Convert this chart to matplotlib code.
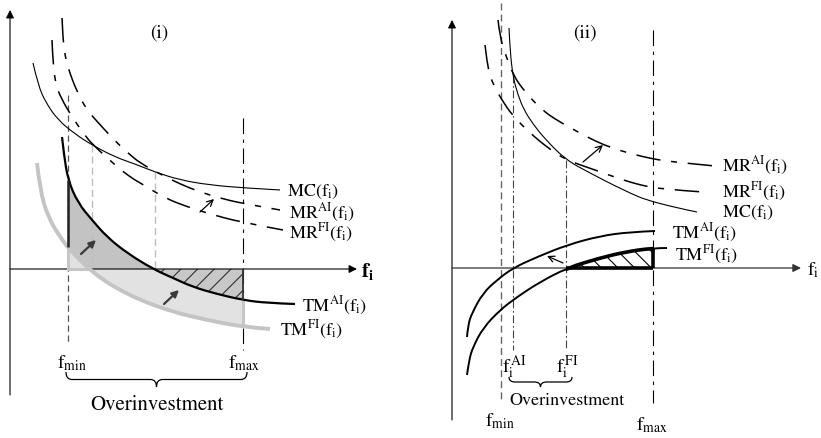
import numpy as np
import matplotlib
matplotlib.use("Agg")
import matplotlib.pyplot as plt
from matplotlib.path import Path
from matplotlib.patches import PathPatch, Rectangle

plt.rcParams['mathtext.fontset'] = 'stix'
plt.rcParams['font.family'] = ['STIXGeneral', 'DejaVu Serif']
plt.rcParams['hatch.linewidth'] = 0.8

# ---------------- panel (i) : curve points (pixel space) ----------------
MC_I = [(33, 63), (38, 85), (46, 103), (58, 120), (75, 134), (92, 145), (115, 157),
        (135, 164), (155, 172), (180, 180), (210, 185), (245, 188), (280, 190)]
MR_AI_I = [(62, 18), (63, 40), (65, 55), (68, 68), (77, 92), (87, 110), (94, 118),
           (114, 140), (128, 153), (140, 163), (160, 174), (180, 184), (200, 192),
           (220, 198), (240, 203), (280, 210)]
MR_FI_I = [(52, 40), (53, 65), (56, 85), (61, 98), (72, 117), (84, 134), (92, 144),
           (115, 165), (130, 177), (142, 184), (165, 198), (185, 206), (210, 214),
           (240, 222), (283, 230)]
TM_AI_I = [(62, 137), (64, 155), (68, 180), (78, 203), (92, 220), (107, 237),
           (127, 253), (153, 269), (173, 278), (193, 287), (217, 294), (243, 300),
           (267, 303), (295, 304)]
TM_FI_I = [(37, 163), (40, 190), (48, 217), (60, 237), (70, 250), (87, 267),
           (103, 280), (120, 290), (140, 300), (173, 312), (207, 320), (243, 327),
           (270, 329)]
FMIN_I, FMAX_I = 68, 243
GUIDE_X_I = [92, 155]
GUIDE_TOP_I = [145, 172]
TM_AI_AT_FMIN_I, TM_FI_AT_FMIN_I = 180, 247
TM_AI_AT_FMAX_I, TM_FI_AT_FMAX_I = 300, 327
TM_FI_ZERO_I = 90
LABELS_I = [r'$\mathrm{MC(f_i)}$', r'$\mathrm{MR^{AI}(f_i)}$', r'$\mathrm{MR^{FI}(f_i)}$',
            r'$\mathrm{TM^{AI}(f_i)}$', r'$\mathrm{TM^{FI}(f_i)}$']
LABEL_POS_I = [(287, 192), (289, 213), (289, 233), (302, 306), (280, 330)]

# ---------------- panel (ii) ----------------
MC_II = [(509, 28), (510, 50), (513, 77), (518, 95), (524, 110), (533, 124),
         (545, 139), (566, 160), (590, 173), (623, 190), (653, 203), (697, 212)]
MR_AI_II = [(498, 20), (500, 37), (505, 53), (513, 75), (525, 92), (542, 110),
            (558, 121), (578, 132), (595, 141), (612, 148), (632, 154), (653, 159),
            (673, 162), (715, 166)]
MR_FI_II = [(485, 45), (487, 62), (490, 76), (495, 88), (502, 100), (512, 115),
            (530, 133), (548, 148), (566, 160), (598, 171), (620, 179), (640, 185),
            (660, 189), (703, 192)]
TM_AI_II = [(467, 337), (468, 325), (472, 313), (483, 293), (497, 280), (513, 268),
            (537, 257), (567, 245), (600, 236), (630, 232), (655, 231)]
TM_FI_II = [(467, 375), (469, 360), (473, 347), (483, 328), (500, 310), (517, 297),
            (540, 282), (567, 268), (600, 258), (625, 252), (653, 248), (667, 248)]
FMIN_II, FAI_II, FFI_II, FMAX_II = 501, 513, 566, 653
TM_FI_AT_FMAX_II = 248
LABELS_II = [r'$\mathrm{MR^{AI}(f_i)}$', r'$\mathrm{MR^{FI}(f_i)}$', r'$\mathrm{MC(f_i)}$',
             r'$\mathrm{TM^{AI}(f_i)}$', r'$\mathrm{TM^{FI}(f_i)}$']
LABEL_POS_II = [(722, 166), (722, 192), (722, 213), (672, 233), (675, 255)]

AXIS_Y_I, AXIS_Y_II = 269, 268

fig = plt.figure(figsize=(8.21, 4.38), dpi=100)
ax = fig.add_axes([0, 0, 1, 1])
ax.set_xlim(0, 821)
ax.set_ylim(438, 0)
ax.axis('off')


def smooth_path(pts, close_to=None):
    p = np.asarray(pts, float)
    n = len(p)
    verts, codes = [p[0]], [Path.MOVETO]
    for i in range(1, n - 1):
        end = p[i + 1] if i == n - 2 else (p[i] + p[i + 1]) / 2
        verts += [p[i], end]
        codes += [Path.CURVE3, Path.CURVE3]
    if n == 2:
        verts.append(p[1]); codes.append(Path.LINETO)
    if close_to is not None:
        for q in close_to:
            verts.append(q); codes.append(Path.LINETO)
        verts.append(p[0]); codes.append(Path.CLOSEPOLY)
    return Path(verts, codes)


def curve(pts, clip=None, **kw):
    pp = PathPatch(smooth_path(pts), fill=False, capstyle='butt', **kw)
    ax.add_patch(pp)
    if clip is not None:
        pp.set_clip_path(Rectangle(clip[:2], clip[2], clip[3], transform=ax.transData))
    return pp


def region(pts, axis_y, clip, **kw):
    path = smooth_path(pts, close_to=[(pts[-1][0], axis_y), (pts[0][0], axis_y)])
    pp = PathPatch(path, **kw)
    ax.add_patch(pp)
    pp.set_clip_path(Rectangle(clip[:2], clip[2], clip[3], transform=ax.transData))
    return pp


def brace(x0, x1, y0, h, lw=0.9):
    xm = (x0 + x1) / 2
    q = min(6, (x1 - x0) / 6)
    ym = y0 + h / 2
    verts = [(x0, y0), (x0, ym), (x0 + q, ym), (xm - q, ym), (xm, ym), (xm, y0 + h),
             (xm, ym), (xm + q, ym), (x1 - q, ym), (x1, ym), (x1, y0)]
    codes = [Path.MOVETO, Path.CURVE3, Path.CURVE3, Path.LINETO, Path.CURVE3, Path.CURVE3,
             Path.CURVE3, Path.CURVE3, Path.LINETO, Path.CURVE3, Path.CURVE3]
    ax.add_patch(PathPatch(Path(verts, codes), fill=False, lw=lw, color='black'))


def arrow(start, end, style='->', color='black', lw=0.9, ms=10, z=8):
    ax.annotate('', xy=end, xytext=start,
                arrowprops=dict(arrowstyle=style, color=color, lw=lw,
                                mutation_scale=ms, shrinkA=0, shrinkB=0), zorder=z)


def vline(x, y0, y1, **kw):
    ax.plot([x, x], [y0, y1], solid_capstyle='butt', **kw)


# ================= PANEL (i) =================
LIGHT, DARK, GRAYLINE = '#e2e2e2', '#c3c3c3', '#c6c6c6'
region(TM_FI_I, AXIS_Y_I, (FMIN_I, 0, FMAX_I - FMIN_I, 438),
       facecolor=LIGHT, edgecolor='none', zorder=1)
region(TM_AI_I, AXIS_Y_I, (FMIN_I, 0, FMAX_I - FMIN_I, AXIS_Y_I),
       facecolor=DARK, edgecolor='none', lw=0, zorder=2)
region(TM_AI_I, AXIS_Y_I, (FMIN_I, AXIS_Y_I, FMAX_I - FMIN_I, 100),
       facecolor='#c8c8c8', edgecolor='#303030', lw=0, hatch='//', zorder=2)

for gx, gt in zip(GUIDE_X_I, GUIDE_TOP_I):
    vline(gx, gt, AXIS_Y_I, color='#bdbdbd', lw=1.0, ls=(0, (5, 3)), zorder=3)
vline(FMIN_I, 95, 345, color='#555555', lw=0.9, ls=(0, (5, 3)), zorder=3)
vline(FMAX_I, 118, 350, color='black', lw=0.8, ls=(0, (14, 5, 3, 5)), zorder=3)

arrow((10, 395), (10, 10), style='-|>', lw=0.8, ms=12, z=4)
arrow((10, AXIS_Y_I), (357, AXIS_Y_I), style='-|>', lw=0.8, ms=12, z=4)
ax.text(361, AXIS_Y_I + 2, r'$\mathbf{f_i}$', fontsize=15, va='center', ha='left')

region(TM_FI_I, AXIS_Y_I, (FMIN_I, 0, FMAX_I - FMIN_I, AXIS_Y_I),
       facecolor=LIGHT, edgecolor='none', zorder=5)
ax.plot([FMIN_I, TM_FI_ZERO_I], [AXIS_Y_I, AXIS_Y_I], color=GRAYLINE, lw=2.2, zorder=5)
vline(FMIN_I, TM_FI_AT_FMIN_I, AXIS_Y_I, color=GRAYLINE, lw=2.2, zorder=5)
vline(FMAX_I, TM_AI_AT_FMAX_I, TM_FI_AT_FMAX_I, color=GRAYLINE, lw=2.2, zorder=5)

curve(TM_FI_I, edgecolor='#c4c4c4', lw=2.8, zorder=6)
curve(TM_AI_I, edgecolor='black', lw=1.6, zorder=7)
vline(FMIN_I, TM_AI_AT_FMIN_I, TM_FI_AT_FMIN_I, color='#222222', lw=1.8, zorder=7)
vline(FMAX_I, AXIS_Y_I, TM_AI_AT_FMAX_I, color='#333333', lw=1.3, zorder=7)
curve(MC_I, edgecolor='black', lw=0.8, zorder=7)
curve(MR_AI_I, edgecolor='black', lw=1.1, linestyle=(0, (16, 7, 4, 7)), zorder=7)
curve(MR_FI_I, edgecolor='black', lw=1.1, linestyle=(0, (16, 7, 4, 7)), zorder=7)

arrow((200, 212), (214, 199), style='->', lw=0.9, ms=11)
arrow((81, 254), (96, 240), style='-|>', color='#3a3a3a', lw=1.6, ms=10)
arrow((164, 304), (179, 290), style='-|>', color='#3a3a3a', lw=1.6, ms=10)

for t, (x, y) in zip(LABELS_I, LABEL_POS_I):
    ax.text(x, y, t, fontsize=13, va='center', ha='left', zorder=9)
ax.text(159, 33, '(i)', fontsize=14, va='center', ha='center')
ax.text(57, 363, r'$\mathrm{f_{min}}$', fontsize=14, va='center', ha='left')
ax.text(228, 363, r'$\mathrm{f_{max}}$', fontsize=14, va='center', ha='left')
brace(66, 247, 372, 15)
ax.text(157, 405, 'Overinvestment', fontsize=15, va='center', ha='center')

# ================= PANEL (ii) =================
vline(FMIN_II, 3, 400, color='#666666', lw=1.0, ls=(0, (5, 3)), zorder=3)
vline(FAI_II, 75, 350, color='#444444', lw=0.8, ls=(0, (7, 2.5, 1.5, 2.5)), zorder=3)
vline(FFI_II, 160, 348, color='#444444', lw=0.8, ls=(0, (7, 2.5, 1.5, 2.5)), zorder=3)
vline(FMAX_II, 30, 403, color='black', lw=0.8, ls=(0, (14, 5, 3, 5)), zorder=3)

arrow((452, 420), (452, 20), style='-|>', lw=0.8, ms=12, z=4)
arrow((452, AXIS_Y_II), (801, AXIS_Y_II), style='-|>', color='#333333', lw=0.9, ms=12, z=4)
ax.text(807, AXIS_Y_II + 2, r'$\mathrm{f_i}$', fontsize=14, va='center', ha='left')

region(TM_FI_II, AXIS_Y_II, (FFI_II, 0, FMAX_II - FFI_II, AXIS_Y_II),
       facecolor='white', edgecolor='black', lw=0, hatch='\\\\', zorder=4)
curve(TM_FI_II, edgecolor='black', lw=1.4, zorder=6)
curve(TM_FI_II, clip=(FFI_II, 0, FMAX_II - FFI_II, 438), edgecolor='black', lw=2.6, zorder=6)
vline(FMAX_II, TM_FI_AT_FMAX_II, AXIS_Y_II, color='black', lw=2.6, zorder=6)
ax.plot([FFI_II, FMAX_II], [AXIS_Y_II, AXIS_Y_II], color='black', lw=2.6,
        solid_capstyle='butt', zorder=6)
curve(TM_AI_II, edgecolor='black', lw=1.4, zorder=6)
curve(MC_II, edgecolor='black', lw=0.8, zorder=7)
curve(MR_AI_II, edgecolor='black', lw=1.1, linestyle=(0, (16, 7, 4, 7)), zorder=7)
curve(MR_FI_II, edgecolor='black', lw=1.1, linestyle=(0, (16, 7, 4, 7)), zorder=7)

arrow((583, 162), (603, 145), style='->', lw=0.9, ms=11)
arrow((563, 263), (547, 256), style='->', lw=0.9, ms=11)

for t, (x, y) in zip(LABELS_II, LABEL_POS_II):
    ax.text(x, y, t, fontsize=13, va='center', ha='left', zorder=9)
ax.text(585, 33, '(ii)', fontsize=14, va='center', ha='center')
ax.text(514, 367, r'$\mathrm{f_i^{\,AI}}$', fontsize=14, va='center', ha='center')
ax.text(567, 367, r'$\mathrm{f_i^{\,FI}}$', fontsize=14, va='center', ha='center')
brace(509, 572, 377, 10)
ax.text(567, 401, 'Overinvestment', fontsize=13, va='center', ha='center')
ax.text(500, 421, r'$\mathrm{f_{min}}$', fontsize=14, va='center', ha='center')
ax.text(652, 425, r'$\mathrm{f_{max}}$', fontsize=14, va='center', ha='center')

fig.savefig('out.png', dpi=100)
